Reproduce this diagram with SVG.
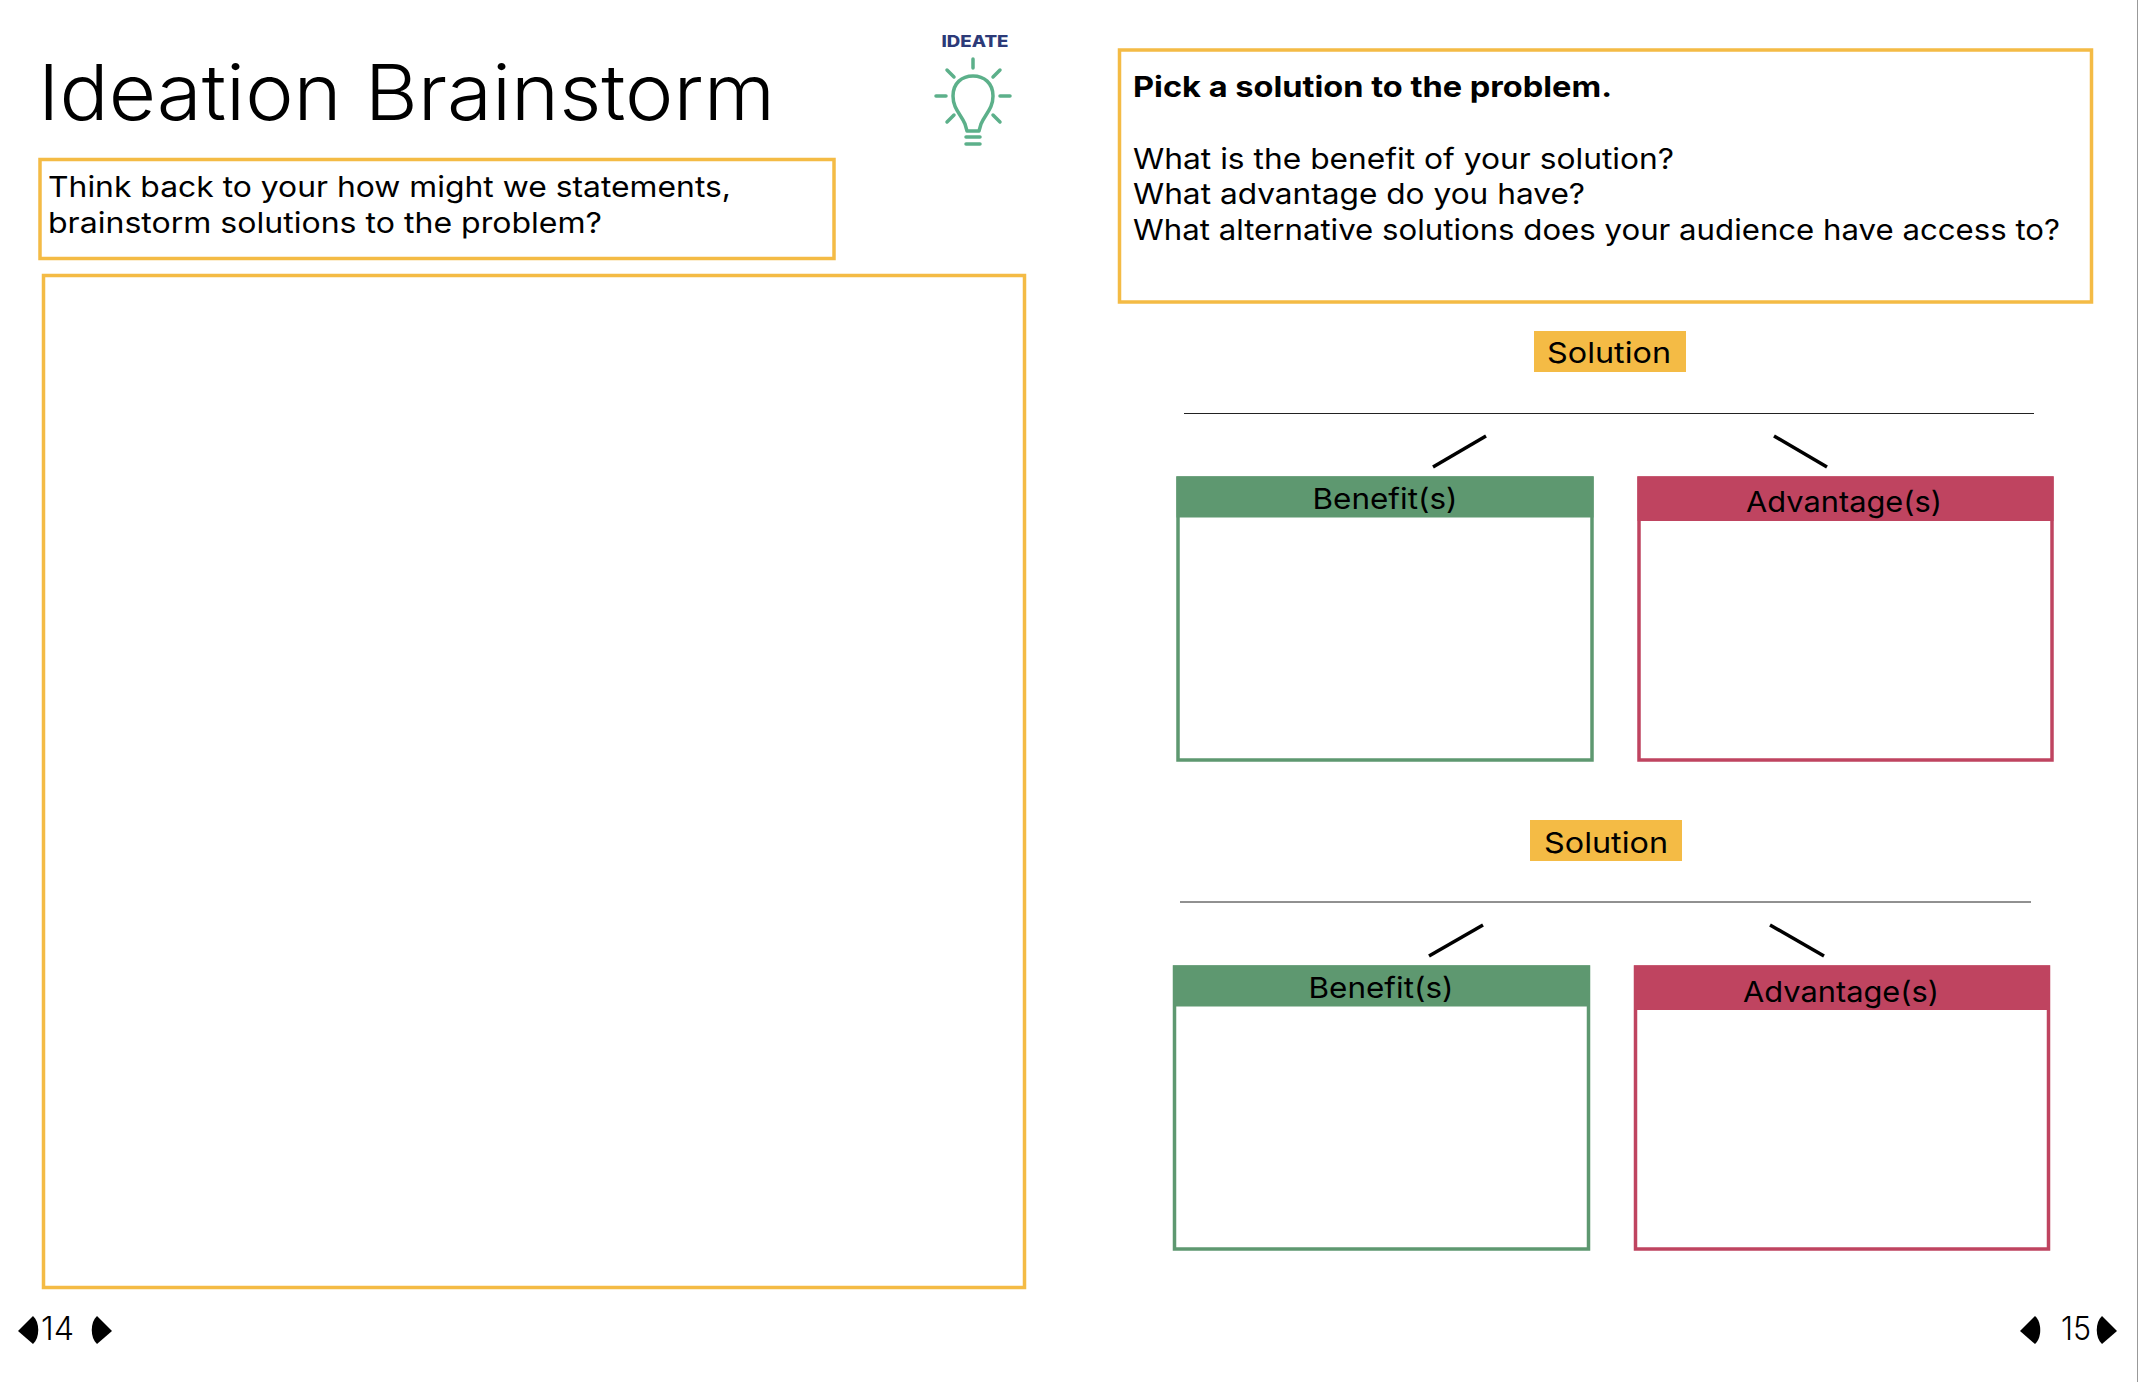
<svg xmlns="http://www.w3.org/2000/svg" width="2138" height="1382" viewBox="0 0 2138 1382">
<style>
text{font-family:Inter,"Open Sans","Liberation Sans",sans-serif;fill:#000}
.t{font-size:29px}
.y{fill:none;stroke:#f4bb45;stroke-width:3.500}
.g{fill:#fff;stroke:#5e9870;stroke-width:3.500}
.r{fill:#fff;stroke:#bf4460;stroke-width:3.500}
.c{stroke:#000;stroke-width:3.500;fill:none}
.b{stroke:#5cb08a;stroke-width:3.500;fill:none;stroke-linecap:round;stroke-linejoin:round}
.m{text-anchor:middle}
</style>
<rect width="2138" height="1382" fill="#fff"/>
<line x1="2137.500" y1="0" x2="2137.500" y2="1382" stroke="#999" stroke-width="1"/>
<g id="title"><text x="38" y="120" font-size="77" textLength="737" lengthAdjust="spacingAndGlyphs" font-weight="300">Ideation Brainstorm</text></g>
<g id="prompt-left"><rect class="y" x="40" y="159.500" width="794" height="99"/>
<text class="t" x="48" y="197" textLength="683" lengthAdjust="spacingAndGlyphs">Think back to your how might we statements,</text>
<text class="t" x="48" y="233" textLength="554" lengthAdjust="spacingAndGlyphs">brainstorm solutions to the problem?</text></g>
<g id="brainstorm-box"><rect class="y" x="43.500" y="275.500" width="981" height="1012"/></g>
<g id="ideate-icon">
<text x="975" y="47" font-size="16" font-weight="800" class="m" style="fill:#2c3a78" textLength="67" lengthAdjust="spacingAndGlyphs">IDEATE</text>
<path class="b" d="M973 59V68M947 70L954 77M1000 70L993 77M936 96H946M1000 96H1010M947 122L954 115M1000 122L993 115"/>
<path class="b" d="M967 131L965 124C961 114 953 109 953 96C953 83 962 76 973 76C984 76 993 83 993 96C993 109 985 114 981 124L979 131Z"/>
<path class="b" d="M966 137H980M966 144H980"/>
</g>
<g id="prompt-right"><rect class="y" x="1119.500" y="50" width="972" height="252"/>
<text class="t" x="1133" y="97" font-weight="700" textLength="479" lengthAdjust="spacingAndGlyphs">Pick a solution to the problem.</text>
<text class="t" x="1133" y="169" textLength="541" lengthAdjust="spacingAndGlyphs">What is the benefit of your solution?</text>
<text class="t" x="1133" y="204" textLength="452" lengthAdjust="spacingAndGlyphs">What advantage do you have?</text>
<text class="t" x="1133" y="240" textLength="927" lengthAdjust="spacingAndGlyphs">What alternative solutions does your audience have access to?</text></g>
<g id="solution-1"><rect x="1534" y="331" width="152" height="41" fill="#f4bb45"/><text class="t m" x="1609" y="363" textLength="124" lengthAdjust="spacingAndGlyphs">Solution</text></g>
<g id="benefit-1"><rect class="g" x="1178" y="478" width="414" height="282"/><rect x="1176.500" y="476.500" width="417" height="41" fill="#5e9870"/><text class="t m" x="1385" y="509" textLength="145" lengthAdjust="spacingAndGlyphs">Benefit(s)</text></g>
<g id="advantage-1"><rect class="r" x="1639" y="478" width="413" height="282"/><rect x="1637.500" y="476.500" width="416" height="44.500" fill="#bf4460"/><text class="t m" x="1844" y="512" textLength="196" lengthAdjust="spacingAndGlyphs">Advantage(s)</text></g>
<g id="solution-2"><rect x="1530" y="820" width="152" height="41" fill="#f4bb45"/><text class="t m" x="1606" y="853" textLength="124" lengthAdjust="spacingAndGlyphs">Solution</text></g>
<g id="benefit-2"><rect class="g" x="1174.500" y="967" width="414" height="282"/><rect x="1173" y="965.500" width="417" height="41" fill="#5e9870"/><text class="t m" x="1381" y="998" textLength="145" lengthAdjust="spacingAndGlyphs">Benefit(s)</text></g>
<g id="advantage-2"><rect class="r" x="1635.500" y="967" width="413" height="282"/><rect x="1634" y="965.500" width="416" height="44.500" fill="#bf4460"/><text class="t m" x="1841" y="1002" textLength="196" lengthAdjust="spacingAndGlyphs">Advantage(s)</text></g>
<g id="connectors">
<line x1="1184" y1="413.500" x2="2034" y2="413.500" stroke="#222" stroke-width="1"/>
<line class="c" x1="1433" y1="467" x2="1486" y2="436"/>
<line class="c" x1="1774" y1="436" x2="1827" y2="467"/>
<line x1="1180" y1="902" x2="2031" y2="902" stroke="#222" stroke-width="1"/>
<line class="c" x1="1429" y1="956" x2="1483" y2="925"/>
<line class="c" x1="1770" y1="925" x2="1824" y2="956"/>
</g>
<g id="page-14">
<path d="M18 1331L33 1316C40 1322 40 1338 33 1344Z"/>
<path d="M112 1331L97 1316C90 1322 90 1338 97 1344Z"/>
<text x="41" y="1340" font-size="32" font-weight="300" textLength="33" lengthAdjust="spacingAndGlyphs">14</text>
</g>
<g id="page-15">
<path d="M2020 1331L2035 1316C2042 1322 2042 1338 2035 1344Z"/>
<path d="M2117 1331L2102 1316C2095 1322 2095 1338 2102 1344Z"/>
<text x="2061" y="1340" font-size="32" font-weight="300" textLength="30" lengthAdjust="spacingAndGlyphs">15</text>
</g>
</svg>
